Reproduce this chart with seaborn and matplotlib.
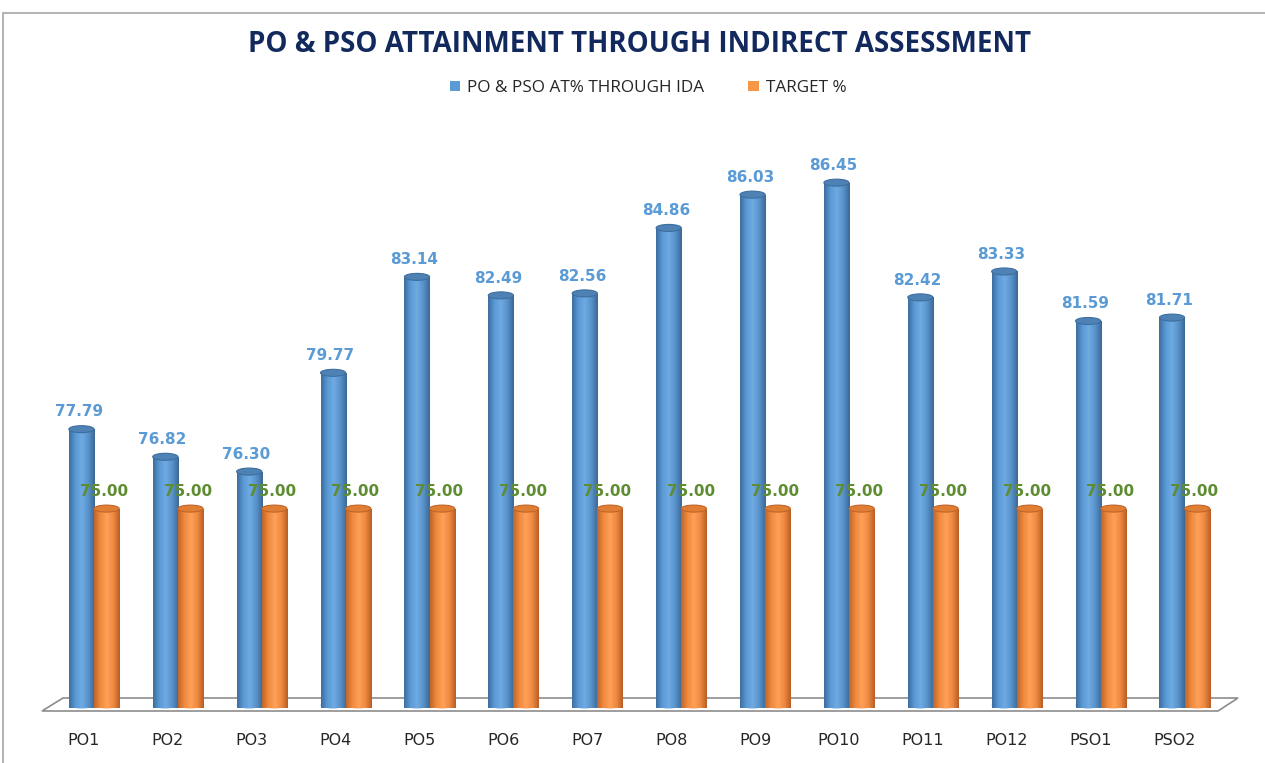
import numpy as np
import pandas as pd
import matplotlib
matplotlib.use("Agg")
import matplotlib.pyplot as plt
import matplotlib.transforms as mtransforms
from matplotlib.patches import Patch, Ellipse, Polygon, Rectangle
from matplotlib.colors import to_rgb
from matplotlib import font_manager
import seaborn as sns

categories = ["PO1", "PO2", "PO3", "PO4", "PO5", "PO6", "PO7", "PO8", "PO9", "PO10",
              "PO11", "PO12", "PSO1", "PSO2"]
attainment = [77.79, 76.82, 76.30, 79.77, 83.14, 82.49, 82.56, 84.86, 86.03, 86.45,
              82.42, 83.33, 81.59, 81.71]
target = [75.00, 75.00, 75.00, 75.00, 75.00, 75.00, 75.00, 75.00, 75.00, 75.00,
          75.00, 75.00, 75.00, 75.00]
series_names = ["PO & PSO AT% THROUGH IDA", "TARGET %"]
title = "PO & PSO ATTAINMENT THROUGH INDIRECT ASSESSMENT"

BLUE = "#5B9BD5"
ORANGE = "#F79646"
shade = {
    BLUE: ["#3D6E9E", "#5A9AD6", "#6FAAE2", "#5892CA", "#3B6896"],
    ORANGE: ["#C0652A", "#F08A3E", "#FFA05A", "#EE8A40", "#B85E25"],
}
cap_col = {BLUE: "#4F82B4", ORANGE: "#E07E34"}
label_col = {BLUE: "#5B9BD5", ORANGE: "#5E8C31"}

sns.set_style("white")
avail = {f.name for f in font_manager.fontManager.ttflist}
narrow = "Liberation Sans Narrow" if "Liberation Sans Narrow" in avail else "Open Sans"
plt.rcParams["font.family"] = ["DejaVu Sans"]

W, H = 1265, 763
fig = plt.figure(figsize=(W / 100, H / 100), dpi=100)

def fx(px):
    return px / W

def fy(py):
    return 1 - py / H

# outer frame
fig.add_artist(Rectangle((fx(3), fy(770)), fx(1280), fy(13) - fy(770),
                         transform=fig.transFigure, fill=False,
                         edgecolor="#A6A6A6", linewidth=1.2))

ax_left, ax_right, ax_top, ax_bot = 42, 1240, 130, 705
ax = fig.add_axes([fx(ax_left), fy(ax_bot), fx(ax_right - ax_left), fy(ax_top) - fy(ax_bot)])

# floor
floor = Polygon([(fx(42), fy(711)), (fx(1218), fy(711)), (fx(1238), fy(698)), (fx(63), fy(698))],
                closed=True, transform=fig.transFigure, fill=False,
                edgecolor="#8C8C8C", linewidth=1.2, zorder=0)
fig.add_artist(floor)

df = pd.DataFrame({
    "category": categories * 2,
    "value": attainment + target,
    "series": [series_names[0]] * len(categories) + [series_names[1]] * len(categories),
})

sns.barplot(data=df, x="category", y="value", hue="series", palette=[BLUE, ORANGE],
            width=0.6, ax=ax, legend=False, saturation=1, errorbar=None, zorder=2)

ymin, ymax = 68.1, 88.3
ax.set_ylim(ymin, ymax)
ax.set_xlim(-0.62, 13.66)

ppu = (ax_bot - ax_top) / (ymax - ymin)  # pixels per data unit
cap_h = 7 / ppu

for container, col in zip(ax.containers, [BLUE, ORANGE]):
    cols = np.array([to_rgb(c) for c in shade[col]])
    xs = np.linspace(0, 1, cols.shape[0])
    t = np.linspace(0, 1, 64)
    grad = np.stack([np.interp(t, xs, cols[:, k]) for k in range(3)], axis=-1)[None, :, :]
    for bar in container:
        x0 = bar.get_x()
        w = bar.get_width()
        h = bar.get_height()
        bar.set_facecolor("none")
        bar.set_edgecolor("none")
        im = ax.imshow(grad, extent=(x0, x0 + w, ymin - 0.1, h), aspect="auto",
                       zorder=2, interpolation="bilinear")
        im.set_clip_path(bar)
        bar.set_clip_on(False)
        # bottom rounding
        ax.add_patch(Ellipse((x0 + w / 2, ymin), w, cap_h, facecolor=tuple(grad[0, 32]),
                             edgecolor="none", zorder=1.9, clip_on=False))
        # top cap
        ax.add_patch(Ellipse((x0 + w / 2, h), w, cap_h, facecolor=cap_col[col],
                             edgecolor=shade[col][0], linewidth=0.8, zorder=3))
        ax.annotate(f"{h:.2f}", (x0 + w / 2, h), xytext=(-2, 7), textcoords="offset points",
                    ha="center", va="bottom", fontsize=11, fontweight="bold",
                    color=label_col[col], zorder=5)

for s in ax.spines.values():
    s.set_visible(False)
ax.set_yticks([])
ax.set_xlabel("")
ax.set_ylabel("")
ax.tick_params(axis="x", length=0, pad=20, labelsize=11.5, labelcolor="#262626")
off = mtransforms.ScaledTranslation(-10 / 100, 0, fig.dpi_scale_trans)
for lab in ax.get_xticklabels():
    lab.set_transform(lab.get_transform() + off)
ax.patch.set_alpha(0)

fig.text(fx(640), fy(45), title, ha="center", va="center", fontsize=20,
         fontweight="bold", color="#12295E", family=narrow)

handles = [Patch(facecolor=BLUE, edgecolor="none"), Patch(facecolor=ORANGE, edgecolor="none")]
fig.legend(handles, series_names, loc="center", bbox_to_anchor=(fx(648), fy(88)), ncol=2,
           frameon=False, prop={"family": narrow, "size": 12.3}, handlelength=0.6,
           handleheight=0.6, handletextpad=0.4, columnspacing=2.6, labelcolor="#262626")

fig.savefig("out.png", dpi=100)
